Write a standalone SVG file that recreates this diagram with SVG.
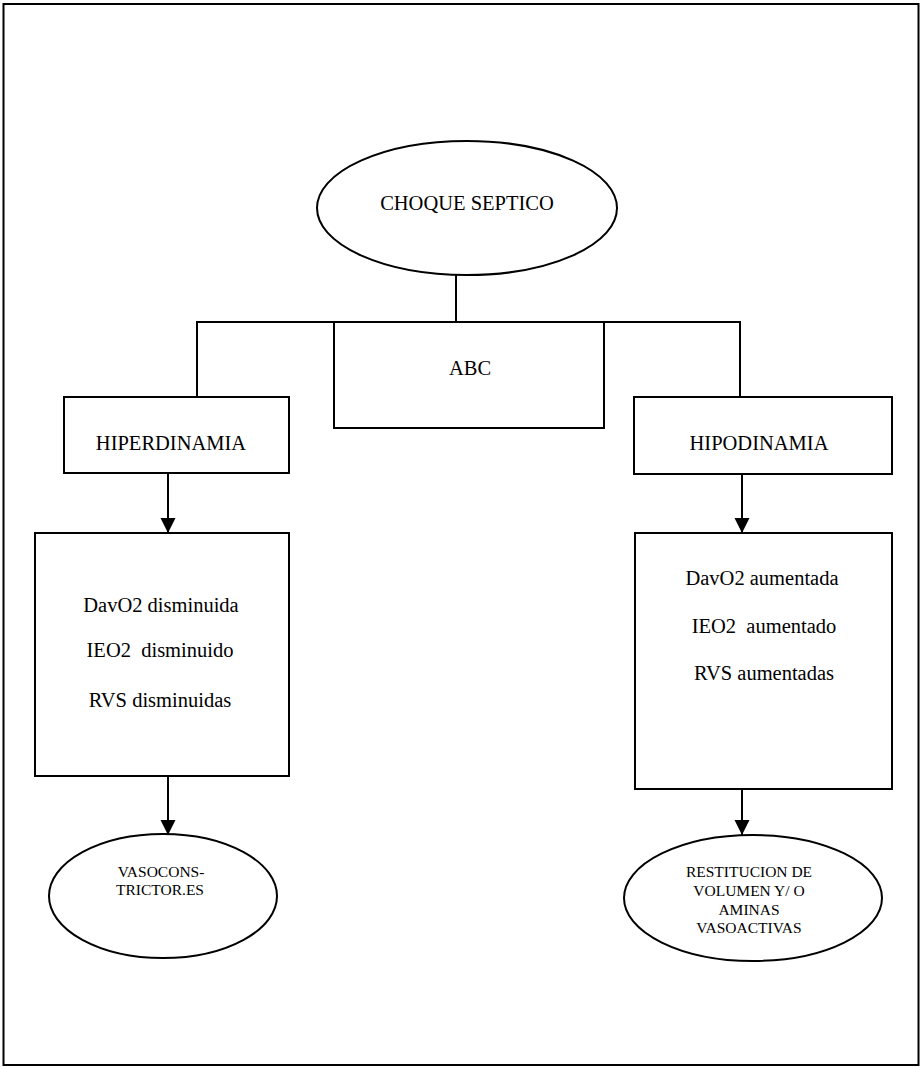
<svg xmlns="http://www.w3.org/2000/svg" width="922" height="1068" viewBox="0 0 922 1068">
<defs>
<style>
.shape{fill:#fff;stroke:#000;stroke-width:2}
.line{fill:none;stroke:#000;stroke-width:2}
.t{font-family:"Liberation Serif","Times New Roman",serif;font-size:20.5px;fill:#000;text-anchor:middle}
.s{font-family:"Liberation Serif","Times New Roman",serif;font-size:15.5px;fill:#000;text-anchor:middle}
</style>
<marker id="arr" markerWidth="16" markerHeight="16" refX="15" refY="8" orient="auto" markerUnits="userSpaceOnUse">
<path d="M0,0.5 L15,8 L0,15.5 Z" fill="#000"/>
</marker>
</defs>
<rect width="922" height="1068" fill="#fff"/>
<rect x="3.5" y="4" width="915" height="1061" fill="none" stroke="#000" stroke-width="2"/>
<g id="connectors">
<line class="line" x1="456" y1="275" x2="456" y2="322"/>
<polyline class="line" points="197,397 197,322 740,322 740,397"/>
<line class="line" x1="168" y1="473" x2="168" y2="533" marker-end="url(#arr)"/>
<line class="line" x1="742" y1="474" x2="742" y2="533" marker-end="url(#arr)"/>
<line class="line" x1="168" y1="776" x2="168" y2="835" marker-end="url(#arr)"/>
<line class="line" x1="742" y1="789" x2="742" y2="835" marker-end="url(#arr)"/>
</g>
<g id="choque">
<ellipse class="shape" cx="467" cy="208" rx="150" ry="67"/>
<text class="t" x="467" y="210">CHOQUE SEPTICO</text>
</g>
<g id="abc">
<rect class="shape" x="334" y="322" width="270" height="106"/>
<text class="t" x="470" y="375">ABC</text>
</g>
<g id="hiperdinamia">
<rect class="shape" x="64" y="397" width="225" height="76"/>
<text class="t" x="171" y="450">HIPERDINAMIA</text>
</g>
<g id="hipodinamia">
<rect class="shape" x="634" y="397" width="258" height="77"/>
<text class="t" x="759" y="450">HIPODINAMIA</text>
</g>
<g id="hiper-params">
<rect class="shape" x="35" y="533" width="254" height="243"/>
<text class="t" x="161" y="612">DavO2 disminuida</text>
<text class="t" x="160" y="657" xml:space="preserve">IEO2  disminuido</text>
<text class="t" x="160" y="707">RVS disminuidas</text>
</g>
<g id="hipo-params">
<rect class="shape" x="635" y="533" width="257" height="256"/>
<text class="t" x="762" y="585">DavO2 aumentada</text>
<text class="t" x="764" y="633" xml:space="preserve">IEO2  aumentado</text>
<text class="t" x="764" y="680">RVS aumentadas</text>
</g>
<g id="vasoconstrictores">
<ellipse class="shape" cx="163" cy="896" rx="114" ry="62"/>
<text class="s" x="161" y="877">VASOCONS-</text>
<text class="s" x="160" y="895">TRICTOR.ES</text>
</g>
<g id="restitucion">
<ellipse class="shape" cx="753" cy="898" rx="129" ry="63"/>
<text class="s" x="749" y="877">RESTITUCION DE</text>
<text class="s" x="749" y="896">VOLUMEN Y/ O</text>
<text class="s" x="749" y="915">AMINAS</text>
<text class="s" x="749" y="933">VASOACTIVAS</text>
</g>
</svg>
